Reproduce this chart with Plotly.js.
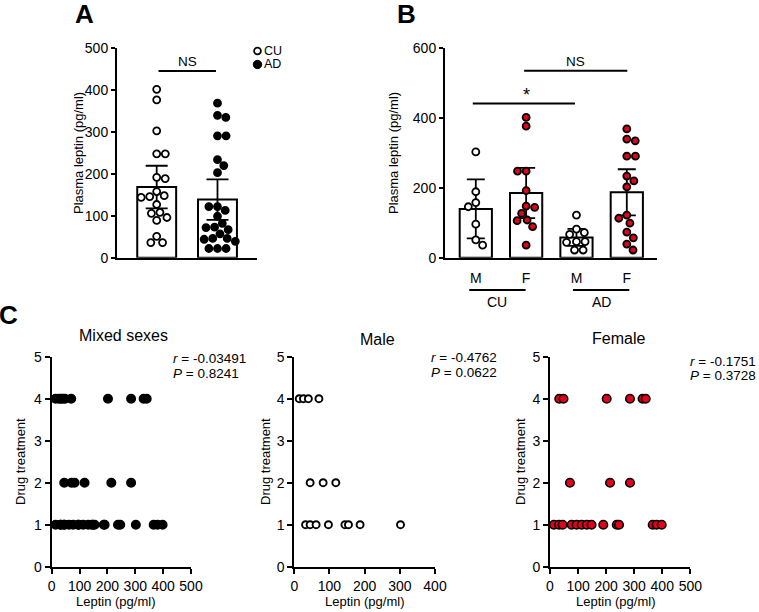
<!DOCTYPE html>
<html>
<head>
<meta charset="utf-8">
<script src="https://cdn.plot.ly/plotly-3.0.1.min.js"></script>
<style>html,body{margin:0;padding:0;background:#fff;}#chart{width:759px;height:612px;}</style>
</head>
<body>
<div id="chart"></div>
<script>
// ---------------- DATA ----------------
const groupsA = ['CU', 'AD'];
const sexLabelsB = ['M', 'F', 'M', 'F'];
const groupLabelsB = ['CU', 'AD'];
// Plasma leptin (pg/ml) per group and sex
const cuMale   = [303, 189, 158, 146, 96, 51, 36];
const cuFemale = [402, 377, 248, 248, 192, 148, 144, 127, 108, 106, 89, 36];
const adMale   = [122, 82, 72, 67, 46, 46, 44, 22, 22];
const adFemale = [369, 340, 335, 291, 291, 234, 220, 203, 122, 113, 99, 73, 57, 39, 22];
// Panel C: leptin vs drug treatment
const maleLeptin   = [14, 26, 40, 70, 45, 82, 118, 32, 45, 62, 97, 144, 154, 187, 302];
const maleDrug     = [4, 4, 4, 4, 2, 2, 2, 1, 1, 1, 1, 1, 1, 1, 1];
const femaleLeptin = [33, 48, 202, 285, 330, 341, 71, 214, 285, 14, 32, 45, 77, 95, 113, 131, 148, 190, 238, 246, 366, 380, 398];
const femaleDrug   = [4, 4, 4, 4, 4, 4, 2, 2, 2, 1, 1, 1, 1, 1, 1, 1, 1, 1, 1, 1, 1, 1, 1];
const statsC = [
  {title: 'Mixed sexes', r: '-0.03491', p: '0.8241'},
  {title: 'Male', r: '-0.4762', p: '0.0622'},
  {title: 'Female', r: '-0.1751', p: '0.3728'}
];
// two-sided 95% t critical values, df = 1..30
const tCrit = [12.706,4.303,3.182,2.776,2.571,2.447,2.365,2.306,2.262,2.228,2.201,2.179,2.160,2.145,2.131,2.120,2.110,2.101,2.093,2.086,2.080,2.074,2.069,2.064,2.060,2.056,2.052,2.048,2.045,2.042];

// ---------------- HELPERS ----------------
const W = 759, H = 612;
const FONT = 'Liberation Sans, Arial, sans-serif';
const RED = '#e3001b';
const px = (x) => x / W;
const py = (y) => 1 - y / H;

function mean(a){ return a.reduce((s,v)=>s+v,0)/a.length; }
function ci95(a){
  const m = mean(a);
  const sd = Math.sqrt(a.reduce((s,v)=>s+(v-m)*(v-m),0)/(a.length-1));
  return tCrit[a.length-2] * sd / Math.sqrt(a.length);
}
// simple beeswarm: returns x offsets in data units
function swarm(vals, ky, kx, d){
  const idx = vals.map((v,i)=>i).sort((a,b)=>vals[b]-vals[a]);
  const placed = [];
  const off = new Array(vals.length).fill(0);
  let flip = 1;
  for (const i of idx){
    const y = vals[i]*ky;
    const cands = [0];
    for (const p of placed){
      const dy = y - p.y;
      if (Math.abs(dy) < d){
        const dx = Math.sqrt(d*d - dy*dy);
        cands.push(p.x + dx, p.x - dx);
      }
    }
    cands.sort((a,b)=> (Math.abs(a)-Math.abs(b)) || (flip*(b-a)));
    for (const c of cands){
      if (placed.every(p => (c-p.x)*(c-p.x) + (y-p.y)*(y-p.y) >= d*d - 1e-6)){
        off[i] = c; placed.push({x:c, y:y}); break;
      }
    }
    flip = -flip;
  }
  return off.map(o => o/kx);
}

// pixel scales of panels
const A_kx = 60.8, A_ky = 209.4/500;
const B_kx = 50.3, B_ky = 209.4/600;
const DOT = 8.6;

const cuAll = cuMale.concat(cuFemale);
const adAll = adMale.concat(adFemale);

const traces = [];
// ---------- Panel A ----------
traces.push({
  type: 'bar', x: [0, 1], y: [mean(cuAll), mean(adAll)], width: 0.64,
  xaxis: 'x', yaxis: 'y',
  marker: {color: 'white', line: {color: 'black', width: 2}},
  error_y: {type: 'data', array: [ci95(cuAll), ci95(adAll)], color: 'black', thickness: 1.8, width: 11},
  hoverinfo: 'skip'
});
[[cuAll, 0, 'white'], [adAll, 1, 'black']].forEach(([vals, pos, col]) => {
  const off = swarm(vals, A_ky, A_kx, DOT);
  traces.push({
    type: 'scatter', mode: 'markers', xaxis: 'x', yaxis: 'y', cliponaxis: false,
    x: off.map(o => pos + o), y: vals,
    marker: {size: 7, color: col, line: {color: 'black', width: 1.8}}
  });
});

// ---------- Panel B ----------
const groupsB = [cuMale, cuFemale, adMale, adFemale];
const colsB = ['white', RED, 'white', RED];
traces.push({
  type: 'bar', x: [0, 1, 2, 3], y: groupsB.map(mean), width: 0.64,
  xaxis: 'x2', yaxis: 'y2',
  marker: {color: 'white', line: {color: 'black', width: 2}},
  error_y: {type: 'data', array: groupsB.map(ci95), color: 'black', thickness: 1.8, width: 9},
  hoverinfo: 'skip'
});
groupsB.forEach((vals, k) => {
  const off = swarm(vals, B_ky, B_kx, DOT);
  traces.push({
    type: 'scatter', mode: 'markers', xaxis: 'x2', yaxis: 'y2', cliponaxis: false,
    x: off.map(o => k + o), y: vals,
    marker: {size: 7, color: colsB[k], line: {color: 'black', width: 1.8}}
  });
});

// ---------- Panel C ----------
const mixedLeptin = maleLeptin.concat(femaleLeptin);
const mixedDrug = maleDrug.concat(femaleDrug);
traces.push({type:'scatter', mode:'markers', xaxis:'x3', yaxis:'y3', cliponaxis:false,
  x: mixedLeptin, y: mixedDrug, marker:{size: 8.5, color:'black', line:{color:'black', width:1.5}}});
traces.push({type:'scatter', mode:'markers', xaxis:'x4', yaxis:'y4', cliponaxis:false,
  x: maleLeptin, y: maleDrug, marker:{size: 7, color:'white', line:{color:'black', width:1.9}}});
traces.push({type:'scatter', mode:'markers', xaxis:'x5', yaxis:'y5', cliponaxis:false,
  x: femaleLeptin, y: femaleDrug, marker:{size: 8.5, color: RED, line:{color:'black', width:1.6}}});

// ---------------- AXES ----------------
const baseAx = {
  showline: true, linewidth: 2, linecolor: 'black', showgrid: false, zeroline: false,
  ticks: 'outside', ticklen: 5, tickwidth: 2, tickcolor: 'black',
  tickfont: {family: FONT, size: 14, color: 'black'}, fixedrange: true
};
const ax = (o) => Object.assign({}, baseAx, o);

const yTopAB = py(48.3), yBotAB = py(257.7);
const yTopC = py(356.7), yBotC = py(566.7);

const layout = {
  width: W, height: H, margin: {l: 0, r: 0, t: 0, b: 0},
  paper_bgcolor: 'white', plot_bgcolor: 'rgba(0,0,0,0)', showlegend: false,
  font: {family: FONT, color: 'black'},
  xaxis: ax({domain: [px(117), px(257)], anchor: 'y', range: [-0.653, 1.65], ticks: '', showticklabels: false}),
  yaxis: ax({domain: [yBotAB, yTopAB], anchor: 'x', range: [0, 500], tickvals: [0,100,200,300,400,500], ticklen: 4}),
  xaxis2: ax({domain: [px(445), px(657)], anchor: 'y2', range: [-0.612, 3.6],
              tickvals: [0,1,2,3], ticktext: sexLabelsB, ticklen: 6, tickcolor: 'rgba(0,0,0,0)'}),
  yaxis2: ax({domain: [yBotAB, yTopAB], anchor: 'x2', range: [0, 600], tickvals: [0,200,400,600], ticklen: 4}),
  xaxis3: ax({domain: [px(51.7), px(191)], anchor: 'y3', range: [0, 500], tickvals: [0,100,200,300,400,500]}),
  yaxis3: ax({domain: [yBotC, yTopC], anchor: 'x3', range: [0, 5], tickvals: [0,1,2,3,4,5]}),
  xaxis4: ax({domain: [px(294.3), px(435)], anchor: 'y4', range: [0, 400], tickvals: [0,100,200,300,400]}),
  yaxis4: ax({domain: [yBotC, yTopC], anchor: 'x4', range: [0, 5], tickvals: [0,1,2,3,4,5]}),
  xaxis5: ax({domain: [px(550), px(690.3)], anchor: 'y5', range: [0, 500], tickvals: [0,100,200,300,400,500]}),
  yaxis5: ax({domain: [yBotC, yTopC], anchor: 'x5', range: [0, 5], tickvals: [0,1,2,3,4,5]}),
  shapes: [],
  annotations: []
};

const txt = (text, x, y, size, extra) => Object.assign({
  text: text, x: px(x), y: py(y), xref: 'paper', yref: 'paper', showarrow: false,
  xanchor: 'center', yanchor: 'middle', font: {family: FONT, size: size, color: 'black'}
}, extra || {});

// panel letters
layout.annotations.push(txt('<b>A</b>', 84, 14, 26));
layout.annotations.push(txt('<b>B</b>', 406, 14, 26));
layout.annotations.push(txt('<b>C</b>', 8, 315, 26));

// axis titles A/B
layout.annotations.push(txt('Plasma leptin (pg/ml)', 78, 153, 13, {textangle: -90, borderpad: 0}));
layout.annotations.push(txt('Plasma leptin (pg/ml)', 393, 153, 13, {textangle: -90, borderpad: 0}));

// legend A (shapes + text)
const legY = [51, 64.5];
layout.shapes.push({type: 'circle', xref: 'paper', yref: 'paper',
  x0: px(257.5-3.4), x1: px(257.5+3.4), y0: py(legY[0]+3.4), y1: py(legY[0]-3.4),
  line: {color: 'black', width: 1.8}, fillcolor: 'white'});
layout.shapes.push({type: 'circle', xref: 'paper', yref: 'paper',
  x0: px(257.5-4.2), x1: px(257.5+4.2), y0: py(legY[1]+4.2), y1: py(legY[1]-4.2),
  line: {color: 'black', width: 1}, fillcolor: 'black'});
layout.annotations.push(txt(groupsA[0], 263, legY[0], 12.5, {xanchor: 'left', borderpad: 0}));
layout.annotations.push(txt(groupsA[1], 263, legY[1], 12.5, {xanchor: 'left', borderpad: 0}));

// significance A
layout.shapes.push({type: 'line', xref: 'x', yref: 'y', x0: 0.03, x1: 0.975, y0: 446, y1: 446, line: {color: 'black', width: 2}});
layout.annotations.push({text: 'NS', x: 0.5, y: 468, xref: 'x', yref: 'y', showarrow: false,
  xanchor: 'center', yanchor: 'middle', font: {family: FONT, size: 13.5, color: 'black'}});

// significance B
layout.shapes.push({type: 'line', xref: 'x2', yref: 'y2', x0: -0.06, x1: 1.97, y0: 442, y1: 442, line: {color: 'black', width: 2}});
layout.shapes.push({type: 'line', xref: 'x2', yref: 'y2', x0: 0.96, x1: 3.01, y0: 536, y1: 536, line: {color: 'black', width: 2}});
layout.annotations.push({text: '*', x: 1.0, y: 466, xref: 'x2', yref: 'y2', showarrow: false,
  xanchor: 'center', yanchor: 'middle', font: {family: FONT, size: 18, color: 'black'}});
layout.annotations.push({text: 'NS', x: 1.985, y: 562, xref: 'x2', yref: 'y2', showarrow: false,
  xanchor: 'center', yanchor: 'middle', font: {family: FONT, size: 13.5, color: 'black'}});

// group lines B
layout.shapes.push({type: 'line', xref: 'x2', yref: 'paper', x0: -0.13, x1: 0.99, y0: py(290), y1: py(290), line: {color: 'black', width: 2}});
layout.shapes.push({type: 'line', xref: 'x2', yref: 'paper', x0: 1.93, x1: 3.05, y0: py(290), y1: py(290), line: {color: 'black', width: 2}});
layout.annotations.push({text: groupLabelsB[0], x: 0.43, y: py(302), xref: 'x2', yref: 'paper', showarrow: false,
  xanchor: 'center', yanchor: 'middle', font: {family: FONT, size: 14, color: 'black'}});
layout.annotations.push({text: groupLabelsB[1], x: 2.49, y: py(302), xref: 'x2', yref: 'paper', showarrow: false,
  xanchor: 'center', yanchor: 'middle', font: {family: FONT, size: 14, color: 'black'}});

// Panel C titles & stats
const cPanels = [
  {tx: 123, ty: 335.5, ry: 358.5, pY: 373, sx: 172, yt: 20, xt: 115},
  {tx: 377, ty: 339, ry: 357.5, pY: 372.5, sx: 430, yt: 265, xt: 364},
  {tx: 618, ty: 338.5, ry: 361.5, pY: 375.5, sx: 689, yt: 520, xt: 615}
];
cPanels.forEach((c, i) => {
  layout.annotations.push(txt(statsC[i].title, c.tx, c.ty, 16));
  layout.annotations.push(txt('<i>r</i> = ' + statsC[i].r, c.sx, c.ry, 13.5, {xanchor: 'left', borderpad: 0}));
  layout.annotations.push(txt('<i>P</i> = ' + statsC[i].p, c.sx, c.pY, 13.5, {xanchor: 'left', borderpad: 0}));
  layout.annotations.push(txt('Drug treatment', c.yt, 462, 13, {textangle: -90}));
  layout.annotations.push(txt('Leptin (pg/ml)', c.xt, 601.5, 13));
});

Plotly.newPlot('chart', traces, layout, {displayModeBar: false, staticPlot: true});
</script>
</body>
</html>
